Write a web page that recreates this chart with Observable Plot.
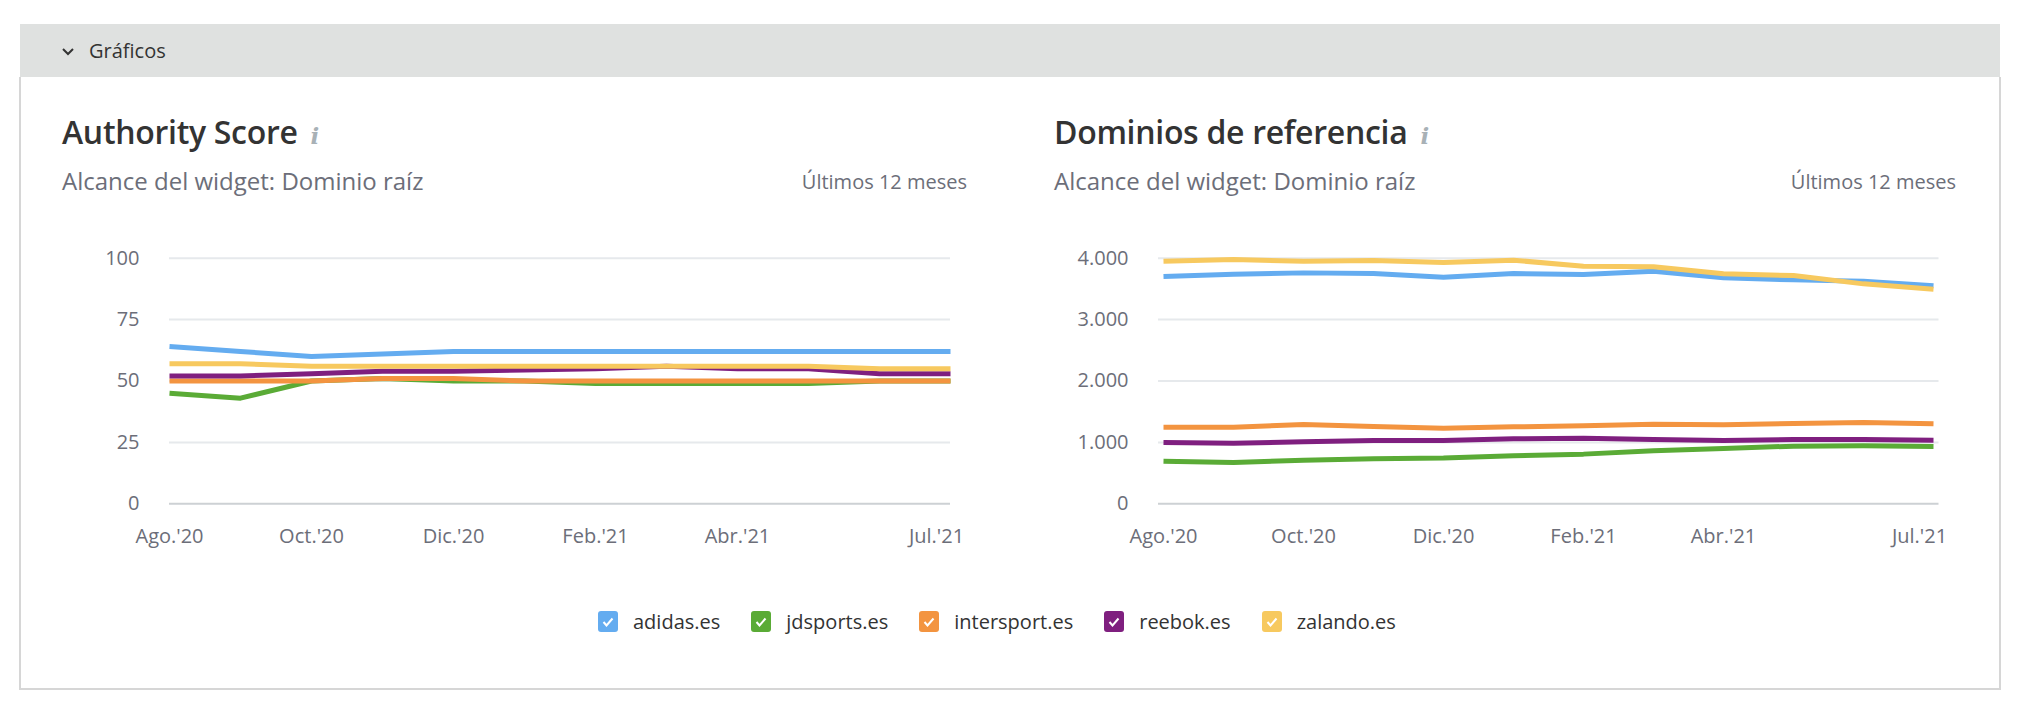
<!DOCTYPE html>
<html>
<head>
<meta charset="utf-8">
<script src="https://cdn.jsdelivr.net/npm/d3@7"></script>
<script src="https://cdn.jsdelivr.net/npm/@observablehq/plot@0.6"></script>
<style>
  html, body { margin: 0; padding: 0; background: #fff; width: 2020px; height: 707px; overflow: hidden; font-family: "Open Sans", sans-serif; }
  .abs { position: absolute; }
  #bar { left: 20px; top: 24px; width: 1980px; height: 53px; background: #dfe1e0; }
  #panel { left: 19px; top: 77px; width: 1978px; height: 611px; border: solid #d6d6d6; border-width: 0 2px 2px 2px; }
  .bartxt { left: 89px; top: 40.5px; font-size: 20px; line-height: 1; color: #333; }
  .title { font-size: 32px; font-weight: 600; line-height: 1; color: #333; white-space: nowrap; letter-spacing: -0.3px; }
  .info { font-family: "DejaVu Serif", serif; font-style: italic; font-weight: bold; color: #a8b1b6; font-size: 23px; margin-left: 13px; }
  .sub { font-size: 24px; line-height: 1; color: #6c6e79; white-space: nowrap; }
  .period { font-size: 20px; line-height: 1; color: #6c6e79; white-space: nowrap; }
  #legend { left: 598px; top: 611px; height: 21px; display: flex; align-items: center; font-size: 20px; color: #333; }
  .item { display: flex; align-items: center; margin-right: 31px; }
  .box { width: 20px; height: 21px; border-radius: 3px; margin-right: 15px; display: flex; align-items: center; justify-content: center; }
</style>
</head>
<body>
<div id="bar" class="abs"></div>
<svg class="abs" style="left:60px;top:45px" width="16" height="14"><polyline points="3,4 8,9 13,4" fill="none" stroke="#333" stroke-width="2"/></svg>
<div class="abs bartxt">Gráficos</div>
<div id="panel" class="abs"></div>

<div class="abs title" style="left:62px;top:115.5px">Authority Score<span class="info">i</span></div>
<div class="abs sub" style="left:62px;top:168.5px">Alcance del widget: Dominio raíz</div>
<div class="abs period" style="right:1053px;top:172px">Últimos 12 meses</div>

<div class="abs title" style="left:1054px;top:115.5px">Dominios de referencia<span class="info">i</span></div>
<div class="abs sub" style="left:1054px;top:168.5px">Alcance del widget: Dominio raíz</div>
<div class="abs period" style="right:64px;top:172px">Últimos 12 meses</div>

<div id="chartA" class="abs" style="left:40px;top:220px"></div>
<div id="chartB" class="abs" style="left:1020px;top:220px"></div>
<div id="legend" class="abs"></div>

<script>
const months = ["2020-08","2020-09","2020-10","2020-11","2020-12","2021-01","2021-02","2021-03","2021-04","2021-05","2021-06","2021-07"];
const tickMonths = ["2020-08","2020-10","2020-12","2021-02","2021-04","2021-07"];
const tickLabels = ["Ago.'20","Oct.'20","Dic.'20","Feb.'21","Abr.'21","Jul.'21"];
const domains = ["adidas.es","jdsports.es","intersport.es","reebok.es","zalando.es"];
const colors = ["#64acf0","#5aab36","#f39440","#7f1f7f","#f7c95f"];

// Authority Score
const asTicks = [0, 25, 50, 75, 100];
const asAdidas     = [64, 62, 60, 61, 62, 62, 62, 62, 62, 62, 62, 62];
const asJdsports   = [45, 43, 50, 51, 50, 50, 49, 49, 49, 49, 50, 50];
const asIntersport = [50, 50, 50, 51, 51, 50, 50, 50, 50, 50, 50, 50];
const asReebok     = [52, 52, 53, 54, 54, 54.5, 55, 56, 55, 55, 53, 53];
const asZalando    = [57, 57, 56, 56, 56, 56, 56, 56, 56, 56, 55, 55];

// Dominios de referencia
const rdTicks = [0, 1000, 2000, 3000, 4000];
const rdAdidas     = [3702, 3739, 3761, 3750, 3691, 3750, 3734, 3788, 3680, 3647, 3626, 3550];
const rdJdsports   = [695, 673, 711, 733, 744, 782, 809, 863, 901, 939, 944, 934];
const rdIntersport = [1248, 1248, 1292, 1259, 1232, 1254, 1270, 1297, 1286, 1308, 1324, 1303];
const rdReebok     = [999, 988, 1009, 1031, 1031, 1058, 1069, 1047, 1031, 1047, 1047, 1037];
const rdZalando    = [3951, 3978, 3951, 3962, 3929, 3967, 3870, 3859, 3745, 3718, 3582, 3495];

function table(series) {
  const rows = [];
  domains.forEach((d, k) => series[k].forEach((v, i) => rows.push({month: months[i], domain: d, value: v})));
  return rows;
}

const esFmt = d3.formatLocale({decimal: ",", thousands: ".", grouping: [3], currency: ["", "€"]}).format(",");
const labelOf = m => tickLabels[tickMonths.indexOf(m)];

function chart(data, yTicks, yMax, width, mLeft, mRight) {
  return Plot.plot({
    width, height: 340,
    marginLeft: mLeft, marginRight: mRight, marginTop: 37.7, marginBottom: 56.7,
    style: {fontFamily: "Open Sans", fontSize: "20px", color: "#6c6e79", background: "transparent", overflow: "visible"},
    x: {type: "point", domain: months, padding: 0, label: null},
    y: {domain: [0, yMax], label: null},
    color: {domain: domains, range: colors},
    marks: [
      Plot.gridY(yTicks.filter(t => t > 0), {stroke: "#e6e9ec", strokeOpacity: 1, strokeWidth: 2}),
      Plot.ruleY([0], {stroke: "#cdd1d4", strokeWidth: 2}),
      Plot.axisY(yTicks, {tickSize: 0, tickPadding: 30, tickFormat: esFmt, label: null}),
      Plot.axisX(tickMonths.slice(0, -1), {tickSize: 0, tickPadding: 25, tickFormat: labelOf, label: null}),
      Plot.axisX(tickMonths.slice(-1), {tickSize: 0, tickPadding: 25, tickFormat: labelOf, label: null, dx: -14}),
      Plot.line(data, {x: "month", y: "value", z: "domain", stroke: "domain", strokeWidth: 5, strokeLinejoin: "round", strokeLinecap: "butt"})
    ]
  });
}

document.getElementById("chartA").appendChild(
  chart(table([asAdidas, asJdsports, asIntersport, asReebok, asZalando]), asTicks, 100, 940, 129, 30));
document.getElementById("chartB").appendChild(
  chart(table([rdAdidas, rdJdsports, rdIntersport, rdReebok, rdZalando]), rdTicks, 4000, 960, 138, 41.5));

const legend = document.getElementById("legend");
domains.forEach((d, k) => {
  const item = document.createElement("div");
  item.className = "item";
  item.innerHTML = `<div class="box" style="background:${colors[k]}"><svg width="12" height="10"><polyline points="1.5,5 4.5,8.5 10.5,1.5" fill="none" stroke="#fff" stroke-width="2"/></svg></div><span>${d}</span>`;
  legend.appendChild(item);
});
</script>
</body>
</html>
